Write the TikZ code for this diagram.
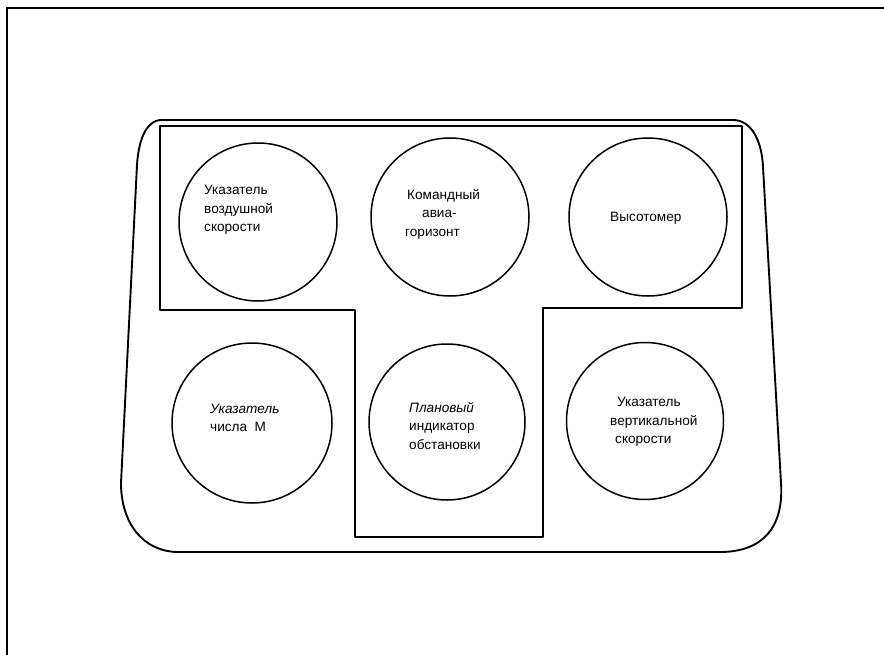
\documentclass[tikz,border=0pt]{standalone}
\usepackage{fontspec}
\setmainfont{Liberation Sans}
\begin{document}
\begin{tikzpicture}[x=1pt,y=-1pt,
  gauge/.style={circle,draw,line width=1.5pt,inner sep=0pt},
  lbl/.style={anchor=west,inner sep=0pt,align=left,font=\fontsize{13.6}{18.5}\selectfont},
  panel/.style={line width=1.9pt,line join=round},
  frameline/.style={line width=1.2pt}]
\useasboundingbox (0,0) rectangle (884,655);
% page frame (left and top edges)
\draw[frameline] (7,655) -- (7,8) -- (884,8);
% outer rounded panel
\draw[panel] (160,120) -- (733,120)
  .. controls (752,120) and (762,142) .. (763,167)
  -- (781,483)
  .. controls (784,528) and (762,552) .. (720,552)
  -- (177,552)
  .. controls (142,551) and (121,522) .. (121,483)
  -- (137,165)
  .. controls (139,134) and (149,121) .. (160,120);
% inner T-shaped frame
\draw[panel] (160,126) -- (742,126) -- (742,308) -- (543,308) -- (543,537)
  -- (355,537) -- (355,310) -- (160,310) -- cycle;
% instruments
\node[gauge,minimum size=158pt] (c1) at (258,222) {};
\node[gauge,minimum size=158pt] (c2) at (450,217) {};
\node[gauge,minimum size=158pt] (c3) at (648,217) {};
\node[gauge,minimum size=160pt] (c4) at (252,423) {};
\node[gauge,minimum size=156pt] (c5) at (447,422) {};
\node[gauge,minimum size=157pt] (c6) at (645,421) {};
% labels
\node[lbl] (t1) at (204,210) {Указатель\\воздушной\\скорости};
\node[lbl] (t2) at (405,214) {\hspace{2pt}Командный\\\hspace{17pt}авиа-\\горизонт};
\node[lbl] (t3) at (610,218) {Высотомер};
\node[lbl] (t4) at (210,418) {\itshape Указатель\\числа\ \ М};
\node[lbl] (t5) at (409,426) {\itshape Плановый\\индикатор\\обстановки};
\node[lbl] (t6) at (610,422) {\hspace{7pt}Указатель\\вертикальной\\\hspace{5pt}скорости};
\end{tikzpicture}
\end{document}
